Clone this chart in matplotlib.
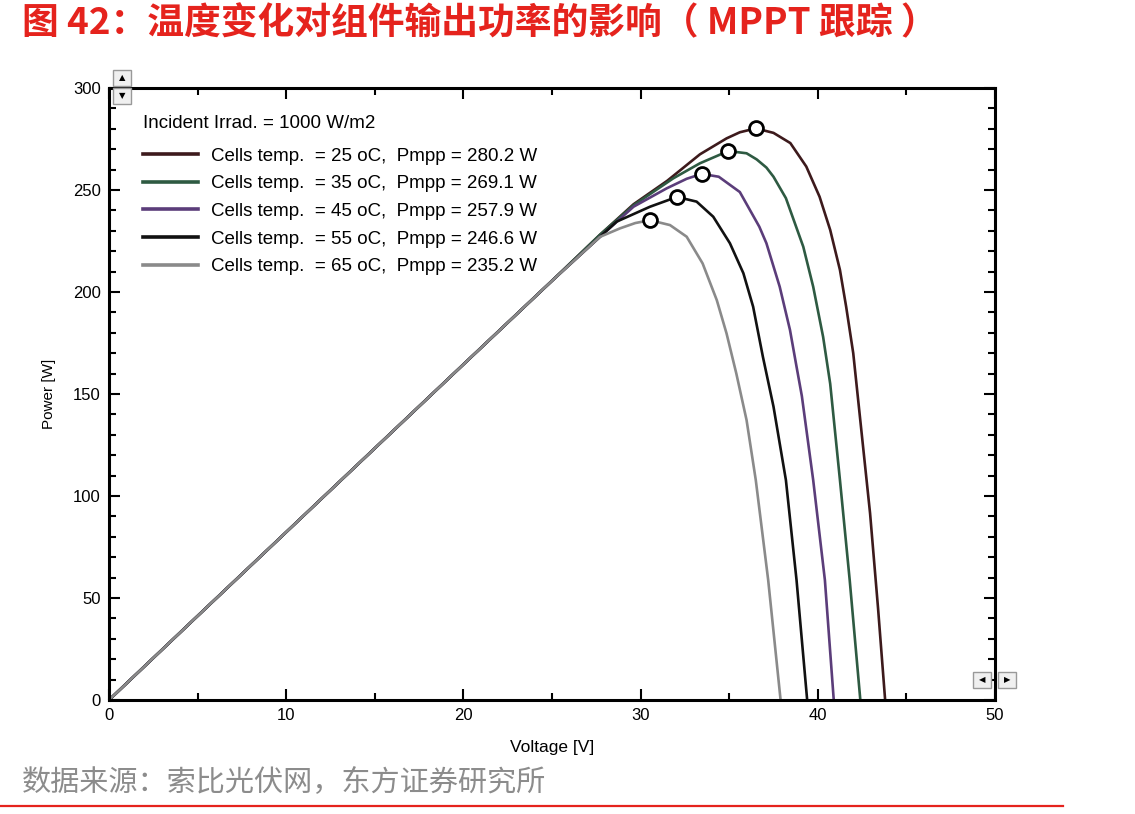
import matplotlib
matplotlib.use('Agg')
import matplotlib.pyplot as plt
from matplotlib.ticker import MultipleLocator
from matplotlib.patches import Rectangle

plt.rcParams['font.family'] = ['Liberation Sans', 'DejaVu Sans']

# P-V curves (voltage V, power W)
v25 = [0, 5, 10, 15, 20, 25, 27.7, 29.6, 31.5, 33.35, 34.85, 35.6, 36.5, 37.5, 38.45, 39.35, 40.1, 40.7, 41.25, 41.6, 42.0, 42.95, 43.4, 43.8]
p25 = [0, 41.2, 82.3, 123.4, 164.5, 205.5, 228, 243, 254.5, 267.5, 275.3, 278.3, 280.2, 278, 273, 261.5, 246.7, 230.4, 210.8, 192.8, 170, 91.5, 45, 0]

v35 = [0, 5, 10, 15, 20, 25, 27.7, 29.6, 31.84, 33.35, 34.95, 35.98, 36.55, 37.1, 37.5, 38.2, 39.18, 39.74, 40.3, 40.7, 41.25, 41.8, 42.4]
p35 = [0, 41.2, 82.3, 123.4, 164.5, 205.5, 228, 242.5, 255.7, 263.1, 269.1, 268, 265, 261, 256.5, 246, 222.2, 202.6, 178, 155, 107.8, 58.8, 0]

v45 = [0, 5, 10, 15, 20, 25, 27.7, 29.6, 31.47, 32.6, 33.45, 34.41, 35.6, 36.7, 37.1, 37.85, 38.43, 38.8, 39.1, 39.74, 40.4, 40.9]
p45 = [0, 41.2, 82.3, 123.4, 164.5, 205.5, 227, 241.8, 250.8, 255.5, 257.9, 256.5, 249, 232, 223.9, 202.6, 181.4, 163.4, 149, 107.8, 58.8, 0]

v55 = [0, 5, 10, 15, 20, 25, 27.7, 28.65, 30.53, 32.05, 33.16, 34.1, 35.04, 35.8, 36.35, 36.9, 37.5, 38.2, 38.8, 39.4]
p55 = [0, 41.2, 82.3, 123.4, 164.5, 205.5, 227, 234.5, 241.8, 246.6, 244.3, 236.9, 223.9, 209.2, 192.8, 168.3, 143.8, 107.8, 58.8, 0]

v65 = [0, 5, 10, 15, 20, 25, 27.7, 28.84, 29.7, 30.53, 31.66, 32.6, 33.5, 34.3, 34.85, 35.4, 35.98, 36.5, 37.2, 37.9]
p65 = [0, 41.2, 82.3, 123.4, 164.5, 205.5, 227, 231.2, 233.8, 235.2, 232.8, 227.1, 214, 196, 179.7, 160.1, 137.2, 107.8, 58.8, 0]

# maximum power points
mpp_v = [36.5, 34.95, 33.45, 32.05, 30.53]
mpp_p = [280.2, 269.1, 257.9, 246.6, 235.2]

temps = [25, 35, 45, 55, 65]
colors = ['#3d1a1c', '#2e5a42', '#5b3d7a', '#111111', '#8a8a8a']

fig = plt.figure(figsize=(11.35, 8.14), dpi=100)
ax = fig.add_axes([109/1135, 114/814, 886/1135, 612/814])

curves = [(v25, p25), (v35, p35), (v45, p45), (v55, p55), (v65, p65)]
for (vv, pp), t, c, pm in zip(curves, temps, colors, mpp_p):
    ax.plot(vv, pp, color=c, lw=1.9, solid_joinstyle='round',
            label='Cells temp.  = %d oC,  Pmpp = %.1f W' % (t, pm))

ax.plot(mpp_v, mpp_p, 'o', ms=10, mfc='white', mec='black', mew=2, zorder=5)

ax.set_xlim(0, 50)
ax.set_ylim(0, 300)
ax.xaxis.set_major_locator(MultipleLocator(10))
ax.xaxis.set_minor_locator(MultipleLocator(5))
ax.yaxis.set_major_locator(MultipleLocator(50))
ax.yaxis.set_minor_locator(MultipleLocator(10))
ax.tick_params(which='both', direction='in', top=True, right=True, width=1.5, labelsize=12)
ax.tick_params(which='major', length=8, pad=6)
ax.tick_params(which='minor', length=5)
for s in ax.spines.values():
    s.set_linewidth(2.2)

ax.set_xlabel('Voltage [V]', fontsize=12.5, labelpad=12)
ax.set_ylabel('Power [W]', fontsize=11, labelpad=12)

leg = ax.legend(title='Incident Irrad. = 1000 W/m2', loc='upper left',
                bbox_to_anchor=(0.022, 0.972), frameon=False, fontsize=13.5,
                title_fontsize=13.5, handlelength=2.9, handletextpad=0.7,
                labelspacing=0.56, alignment='left', borderpad=0.3)
leg.get_title().set_position((0, 5))
for line in leg.get_lines():
    line.set_linewidth(2.6)

# little scroll buttons of the original program window
def button(x, y, sym):
    fig.patches.append(Rectangle((x/1135, 1 - (y + 16)/814), 18/1135, 16/814,
                                 transform=fig.transFigure, fc='#f0f0f0', ec='#999999', lw=1))
    fig.text((x + 9)/1135, 1 - (y + 8)/814, sym, fontsize=6, ha='center', va='center',
             family='DejaVu Sans')

button(113, 70, '▲')
button(113, 88, '▼')
button(973, 672, '◀')
button(998, 672, '▶')

fig.text(22/1135, 1 - 24/814, '图 42：温度变化对组件输出功率的影响（ MPPT 跟踪 ）',
         family=['Noto Sans CJK SC', 'DejaVu Sans'], fontsize=26.5, fontweight='bold',
         color='#e5231d', ha='left', va='center')
fig.text(22/1135, 1 - 783/814, '数据来源：索比光伏网，东方证券研究所',
         family=['Noto Sans CJK SC', 'DejaVu Sans'], fontsize=21, color='#8c8c8c',
         ha='left', va='center')
fig.add_artist(plt.Line2D([0, 1063/1135], [1 - 806/814, 1 - 806/814],
                          transform=fig.transFigure, color='#e5231d', lw=1.6))

fig.savefig('out.png', dpi=100)
